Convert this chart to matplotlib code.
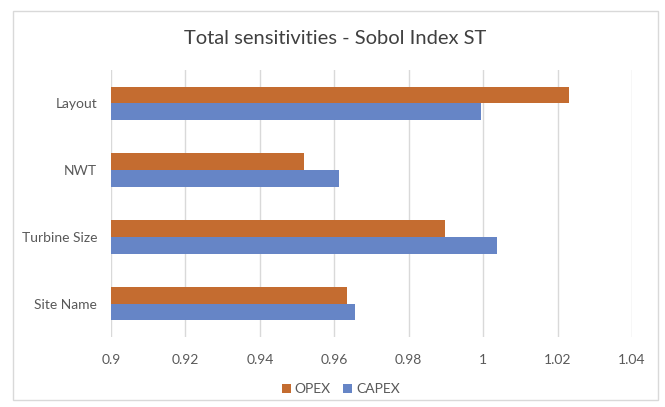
import matplotlib
matplotlib.use("Agg")
import matplotlib.pyplot as plt
from matplotlib.patches import Rectangle
import numpy as np

categories = ["Site Name", "Turbine Size", "NWT", "Layout"]
opex = [0.9635, 0.9898, 0.9518, 1.0230]
capex = [0.9656, 1.0038, 0.9612, 0.9993]
x_ticks = [0.9, 0.92, 0.94, 0.96, 0.98, 1.0, 1.02, 1.04]
x_tick_labels = ["0.9", "0.92", "0.94", "0.96", "0.98", "1", "1.02", "1.04"]

plt.rcParams["font.family"] = ["Lato", "DejaVu Sans"]

orange = "#C46C30"
blue = "#6685C6"
grid_col = "#D9D9D9"
text_col = "#595959"

fig = plt.figure(figsize=(6.65, 4.07), dpi=100)
fig.patches.append(Rectangle((13 / 665, 1 - 400 / 407), 645 / 665, 389 / 407,
                             transform=fig.transFigure, fill=False,
                             edgecolor=grid_col, linewidth=1.0))

ax = fig.add_axes([111 / 665, 1 - 337 / 407, (632 - 111) / 665, (337 - 70) / 407])

y = np.arange(len(categories))
h = 0.25
base = 0.9
ax.barh(y + h / 2, np.array(opex) - base, left=base, height=h, color=orange,
        label="OPEX", zorder=3)
ax.barh(y - h / 2, np.array(capex) - base, left=base, height=h, color=blue,
        label="CAPEX", zorder=3)

ax.set_xlim(0.9, 1.04)
ax.set_ylim(-0.5, len(categories) - 0.5)
ax.set_xticks(x_ticks)
ax.set_xticklabels(x_tick_labels)
ax.set_yticks(y)
ax.set_yticklabels(categories)
ax.tick_params(axis="both", length=0, labelsize=10, colors=text_col)
ax.tick_params(axis="y", pad=10)
ax.tick_params(axis="x", pad=12)
ax.xaxis.grid(True, color=grid_col, linewidth=1.0, zorder=0)
for s in ax.spines.values():
    s.set_visible(False)

fig.text(335 / 665, 1 - 38 / 407, "Total sensitivities - Sobol Index ST",
         ha="center", va="center", fontsize=14.5, color="#404040")

fig.legend(loc="center", bbox_to_anchor=(341 / 665, 1 - 389 / 407), ncol=2,
           frameon=False, fontsize=10, labelcolor=text_col,
           handlelength=0.6, handleheight=0.6, handletextpad=0.3,
           columnspacing=0.9)

fig.savefig("out.png", dpi=100)
